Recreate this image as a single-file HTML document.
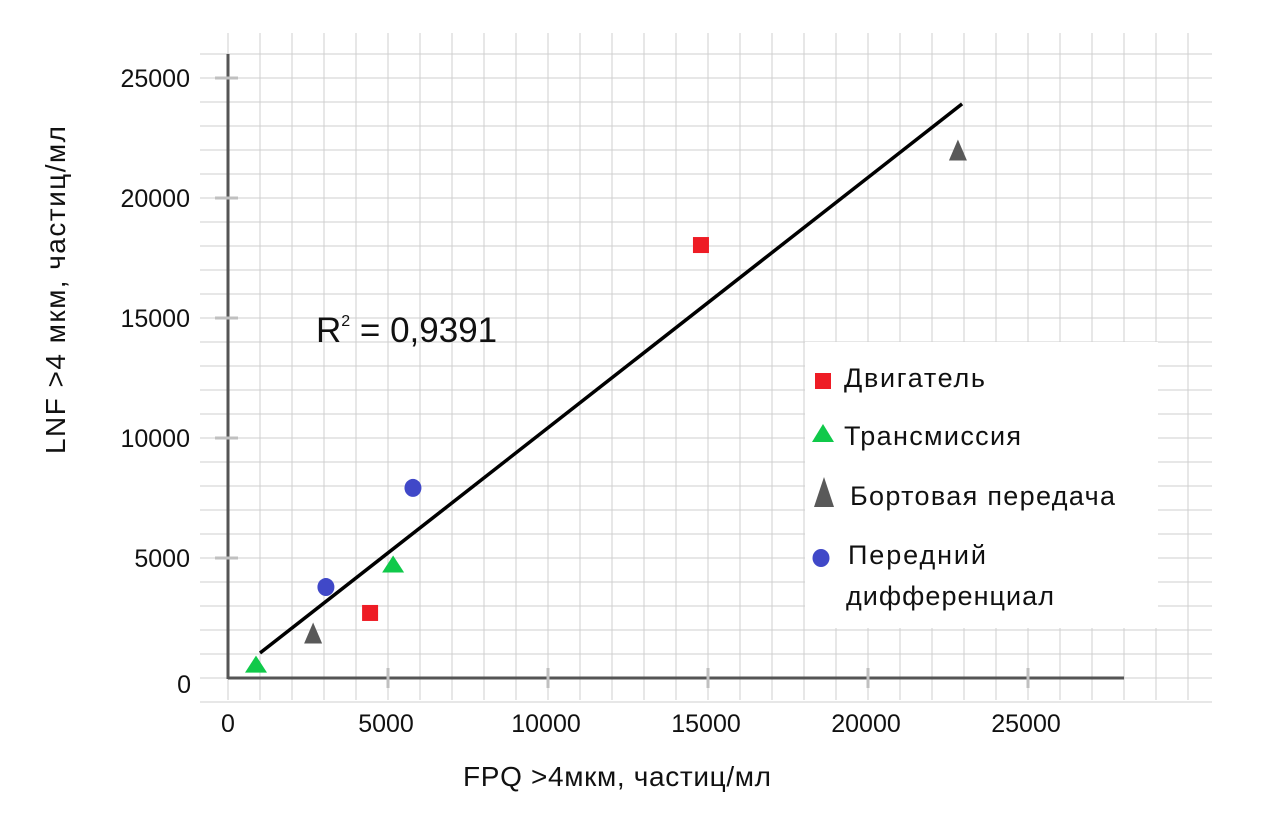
<!DOCTYPE html>
<html><head><meta charset="utf-8"><style>
body{margin:0;background:#fff;font-family:"Liberation Sans","DejaVu Sans",sans-serif}
svg text{font-family:"Liberation Sans","DejaVu Sans",sans-serif;fill:#111}
</style></head><body>
<svg id="c" width="1261" height="816" xmlns="http://www.w3.org/2000/svg"></svg>
<script>
const xTicks=[0,5000,10000,15000,20000,25000];
const yTicks=[0,5000,10000,15000,20000,25000];
const engineX=[14780,4440], engineY=[18040,2710];
const transX=[875,5160], transY=[580,4750];
const finalX=[2660,22810], finalY=[1875,22000];
const diffX=[3060,5780], diffY=[3790,7920];
const trendX=[1000,22940], trendY=[1040,23920];
const r2Label="0,9391";
const svg=document.getElementById('c');
const NS="http://www.w3.org/2000/svg";
const sx=v=>228+v*0.032, sy=v=>678-v*0.024;
function mk(t,a,p){const e=document.createElementNS(NS,t);for(const k in a)e.setAttribute(k,a[k]);(p||svg).appendChild(e);return e;}
const grid=mk('g',{});


for(let k=0;k<=30;k++){mk('line',{x1:sx(k*1000),x2:sx(k*1000),y1:33,y2:700,stroke:'#cfcfcf','stroke-width':1},grid);}
for(let k=-1;k<=26;k++){mk('line',{x1:200,x2:1212,y1:sy(k*1000),y2:sy(k*1000),stroke:'#cfcfcf','stroke-width':1},grid);}
const lg=mk('rect',{x:805,y:342,width:353,height:286,fill:'#fff'});


const xa=mk('line',{x1:228,x2:1124,y1:678,y2:678,stroke:'#555','stroke-width':3});


const ya=mk('line',{x1:228,x2:228,y1:54,y2:679,stroke:'#555','stroke-width':3});


xTicks.forEach(v=>{
 if(v>0){const t=mk('line',{x1:sx(v),x2:sx(v),y1:668,y2:688,stroke:'#c0c0c0','stroke-width':3});
 
 }
 const l=mk('text',{x:sx(v)-(v==0?0:2),y:732,'font-size':25,'text-anchor':'middle'});l.textContent=v;
 
 
});
yTicks.forEach(v=>{
 if(v>0){const t=mk('line',{x1:215,x2:238,y1:sy(v),y2:sy(v),stroke:'#c0c0c0','stroke-width':3});
 
 }
 const l=mk('text',{x:v==0?191:190,y:sy(v)+9+(v==0?6:0),'font-size':25,'text-anchor':'end'});l.textContent=v;
 
 
});
const tl=mk('line',{x1:sx(trendX[0]),y1:sy(trendY[0]),x2:sx(trendX[1]),y2:sy(trendY[1]),stroke:'#000','stroke-width':3.5});


function sq(x,y,c,name){const e=mk('rect',{x:x-8,y:y-8,width:16,height:16,fill:c});
 
 }
function tri(x,y,c,w,h,name){const e=mk('polygon',{points:`${x},${y-h/2} ${x-w/2},${y+h/2} ${x+w/2},${y+h/2}`,fill:c});
 
 }
function circ(x,y,c,name){const e=mk('ellipse',{cx:x,cy:y,rx:8.5,ry:9,fill:c});
 
 }
engineX.forEach((v,i)=>sq(sx(v),sy(engineY[i]),'#ee1c25','engine-point'));
transX.forEach((v,i)=>tri(sx(v),sy(transY[i]),'#10c94a',22,17,'transmission-point'));
finalX.forEach((v,i)=>tri(sx(v),sy(finalY[i]),'#595959',18,21,'final-drive-point'));
diffX.forEach((v,i)=>circ(sx(v),sy(diffY[i]),'#4048c8','front-diff-point'));
sq(823,381,'#ee1c25','legend-engine-marker');
tri(823,433,'#10c94a',22,18,'legend-transmission-marker');
tri(824,492,'#595959',20,30,'legend-final-drive-marker');
circ(821,558,'#4048c8','legend-front-diff-marker');
function txt(x,y,s,fs,name,extra){const e=mk('text',Object.assign({x:x,y:y,'font-size':fs},extra||{}));e.textContent=s;
 
 return e;}
txt(844,387,'Двигатель',27,'legend-engine-label',{textLength:141});
txt(844,445,'Трансмиссия',27,'legend-transmission-label',{textLength:177});
txt(850,505,'Бортовая передача',27,'legend-final-drive-label',{textLength:265});
txt(848,564,'Передний',27,'legend-front-diff-label',{textLength:138});
txt(846,605,'дифференциал',27,'legend-front-diff-label-2',{textLength:208});
const r=txt(316,342,'R',35,'r-squared-label');
const sup=mk('tspan',{dy:-16,'font-size':16},r);sup.textContent='2';
const rest=mk('tspan',{dy:16,'font-size':35},r);rest.textContent=' = '+r2Label;
txt(617,786,'FPQ >4мкм, частиц/мл',28,'x-axis-title',{'text-anchor':'middle',textLength:308});
txt(0,0,'LNF >4 мкм, частиц/мл',28,'y-axis-title',{'text-anchor':'middle',textLength:328,transform:'translate(65,290) rotate(-90)'});
</script>
</body></html>
